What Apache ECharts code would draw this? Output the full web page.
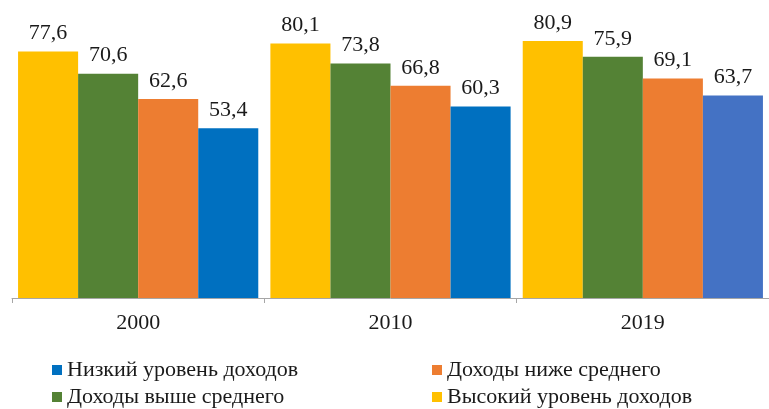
<!DOCTYPE html>
<html>
<head>
<meta charset="utf-8">
<script src="https://cdn.jsdelivr.net/npm/echarts@6/dist/echarts.min.js"></script>
<style>
  html, body { margin: 0; padding: 0; background: #fff; }
  #chart { width: 769px; height: 409px; }
</style>
</head>
<body>
<div id="chart"></div>
<script>
// Income groups by year
const years = ['2000', '2010', '2019'];
const highIncome = [77.6, 80.1, 80.9];
const upperMiddle = [70.6, 73.8, 75.9];
const lowerMiddle = [62.6, 66.8, 69.1];
const lowIncome = [53.4, 60.3, 63.7];

const names = {
  high: 'Высокий уровень доходов',
  upper: 'Доходы выше среднего',
  lower: 'Доходы ниже среднего',
  low: 'Низкий уровень доходов'
};

const font = '"Liberation Serif", "Times New Roman", serif';
const textColor = '#1a1a1a';

const labelCfg = {
  show: true,
  position: 'top',
  distance: 7,
  fontFamily: font,
  fontSize: 22,
  color: textColor,
  formatter: p => String(p.value).replace('.', ',')
};

function barSeries(name, values, color) {
  return {
    name: name,
    type: 'bar',
    data: values,
    itemStyle: { color: color },
    label: labelCfg,
    barGap: '0%',
    barCategoryGap: '4.8%',
    emphasis: { disabled: true }
  };
}

const lowSeries = barSeries(names.low, lowIncome, '#0070C0');
// the latest year uses a lighter blue
lowSeries.data = lowIncome.map((v, i) => i === 2 ? { value: v, itemStyle: { color: '#4472C4' } } : v);

const legendText = { fontFamily: font, fontSize: 22, color: textColor, lineHeight: 22 };

// two-column legend, one vertical block per column
function legendColumn(left, items) {
  return {
    orient: 'vertical',
    left: left,
    top: 359,
    padding: 0,
    itemWidth: 10,
    itemHeight: 10,
    itemGap: 5,
    icon: 'rect',
    data: items,
    textStyle: legendText
  };
}

const chart = echarts.init(document.getElementById('chart'));
chart.setOption({
  animation: false,
  backgroundColor: '#fff',
  grid: { left: 12, right: 0, top: 12, bottom: 111 },
  xAxis: {
    type: 'category',
    data: years,
    axisLine: { lineStyle: { color: '#A6A6A6', width: 1 } },
    axisTick: { show: true, length: 5, lineStyle: { color: '#A6A6A6' } },
    axisLabel: { fontFamily: font, fontSize: 22, color: textColor, margin: 14 }
  },
  yAxis: {
    type: 'value',
    min: 0,
    max: 90,
    show: false,
    splitLine: { show: false }
  },
  legend: [
    legendColumn(52, [names.low, names.upper]),
    legendColumn(432, [names.lower, names.high])
  ],
  series: [
    barSeries(names.high, highIncome, '#FFC000'),
    barSeries(names.upper, upperMiddle, '#548235'),
    barSeries(names.lower, lowerMiddle, '#ED7D31'),
    lowSeries
  ]
});
</script>
</body>
</html>
